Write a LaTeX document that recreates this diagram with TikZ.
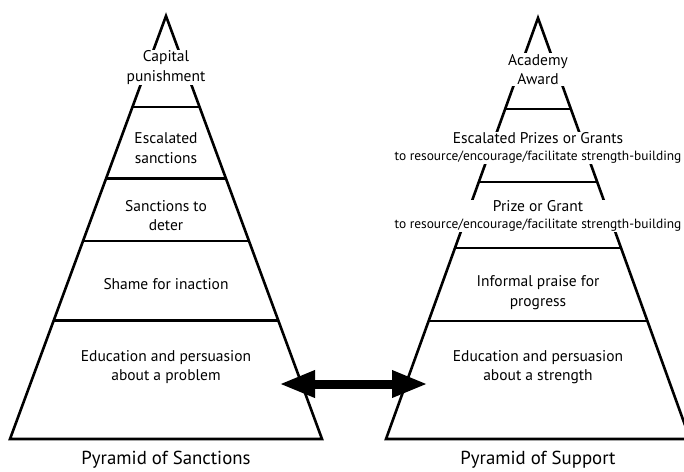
\documentclass[tikz,border=0pt]{standalone}
\usepackage{fontspec}
\setmainfont{PT Sans}
\usetikzlibrary{calc,arrows.meta}
\begin{document}
\begin{tikzpicture}[x=1pt,y=-1pt,
  edge/.style={line width=2.6pt, line join=miter, miter limit=20},
  tier/.style={line width=2.6pt},
  lbl/.style={align=center, font=\fontsize{15.5}{19.5}\selectfont, fill=white, inner sep=1pt},
  caption/.style={font=\fontsize{18.8}{22}\selectfont, inner sep=0pt}]
\useasboundingbox (0,0) rectangle (684,471);

% Pyramid of Sanctions: apex and base corners
\coordinate (LA) at (166,16);
\coordinate (LB) at (10,439);
\coordinate (LC) at (322,439);
\draw[edge] (LA) -- (LB) -- (LC) -- cycle;
\foreach \t in {0.215,0.384,0.532,0.72}
  \draw[tier] ($(LA)!\t!(LB)$) -- ($(LA)!\t!(LC)$);

% Pyramid of Support: apex and base corners
\coordinate (RA) at (538,18);
\coordinate (RB) at (386,439);
\coordinate (RC) at (690,439);
\draw[edge] (RA) -- (RB) -- (RC) -- cycle;
\foreach \t in {0.216,0.39,0.546,0.72}
  \draw[tier] ($(RA)!\t!(RB)$) -- ($(RA)!\t!(RC)$);

% Tier labels, sanctions
\node[lbl] (capital) at (166,67.5) {Capital\\punishment};
\node[lbl] (escal) at (166,148) {Escalated\\sanctions};
\node[lbl] (deter) at (166,215.5) {Sanctions to\\deter};
\node[lbl] (shame) at (166,284) {Shame for inaction};
\node[lbl] (eduL) at (166,367) {Education and persuasion\\about a problem};
\node[caption] (capL) at (166,460) {Pyramid of Sanctions};

% Tier labels, support
\node[lbl] (academy) at (538,69.5) {Academy\\Award};
\node[lbl] (escprize) at (538,148) {Escalated Prizes or Grants\\[-3pt]{\fontsize{13.4}{16}\selectfont to resource/encourage/facilitate strength-building}};
\node[lbl] (prize) at (538,216) {Prize or Grant\\[-3pt]{\fontsize{13.4}{16}\selectfont to resource/encourage/facilitate strength-building}};
\node[lbl] (praise) at (538,292.5) {Informal praise for\\progress};
\node[lbl] (eduR) at (538,367) {Education and persuasion\\about a strength};
\node[caption] (capR) at (538,460) {Pyramid of Support};

% Link between the two base tiers
\coordinate (arL) at (279,384);
\coordinate (arR) at (428,384);
\draw[line width=9pt, {Triangle[length=36pt,width=25pt]}-{Triangle[length=36pt,width=25pt]}] (arL) -- (arR);
\end{tikzpicture}
\end{document}
